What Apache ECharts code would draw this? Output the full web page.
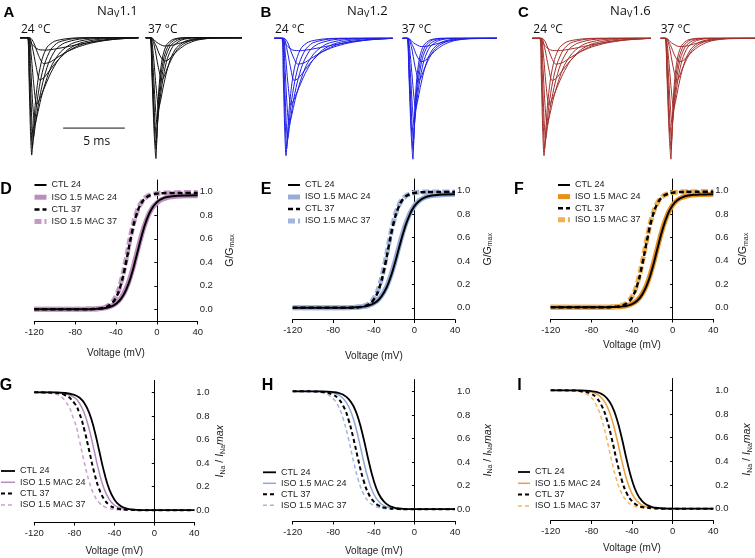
<!DOCTYPE html>
<html>
<head>
<meta charset="utf-8">
<script src="https://cdn.jsdelivr.net/npm/echarts@6/dist/echarts.min.js"></script>
<style>
html,body{margin:0;padding:0;background:#fff}
#main{width:755px;height:558px}
</style>
</head>
<body>
<div id="main"></div>
<script>
// ---- data ----
// current traces (ms, normalised current), same shape family in A, B, C
var trace24 = [
  [[0,0],[0.6,0],[0.72,-0.3],[0.85,-0.8],[0.95,-1.0],[1.08,-0.8],[1.25,-0.55],[1.5,-0.33],[1.8,-0.18],[2.2,-0.08],[2.8,-0.03],[3.8,-0.008],[5,0],[9.6,0]],
  [[0,0],[0.62,0],[0.76,-0.3],[0.9,-0.75],[1.0,-0.94],[1.15,-0.78],[1.35,-0.57],[1.65,-0.37],[2.0,-0.22],[2.5,-0.1],[3.1,-0.04],[4.2,-0.01],[5.5,0],[9.6,0]],
  [[0,0],[0.64,0],[0.8,-0.28],[0.95,-0.68],[1.08,-0.86],[1.25,-0.74],[1.5,-0.56],[1.85,-0.38],[2.3,-0.22],[2.9,-0.1],[3.6,-0.045],[4.8,-0.012],[6.5,0],[9.6,0]],
  [[0,0],[0.66,0],[0.85,-0.22],[1.02,-0.55],[1.2,-0.74],[1.4,-0.66],[1.7,-0.52],[2.1,-0.37],[2.6,-0.23],[3.3,-0.12],[4.2,-0.05],[5.5,-0.015],[7.5,0],[9.6,0]],
  [[0,0],[0.7,0],[0.9,-0.14],[1.1,-0.38],[1.35,-0.57],[1.6,-0.52],[2.0,-0.42],[2.5,-0.3],[3.1,-0.19],[3.9,-0.1],[4.9,-0.045],[6.3,-0.015],[8.3,0],[9.6,0]],
  [[0,0],[0.75,0],[1.0,-0.08],[1.3,-0.24],[1.6,-0.36],[1.95,-0.34],[2.4,-0.28],[3.0,-0.2],[3.8,-0.12],[4.8,-0.065],[6.0,-0.03],[7.6,-0.01],[9.6,0]],
  [[0,0],[0.8,0],[1.1,-0.04],[1.5,-0.15],[1.9,-0.22],[2.4,-0.21],[3.0,-0.17],[3.8,-0.12],[4.8,-0.075],[6.0,-0.04],[7.5,-0.015],[9.6,0]],
  [[0,0],[0.65,0],[1.0,-0.06],[1.5,-0.1],[2.1,-0.105],[2.9,-0.095],[3.9,-0.075],[5.1,-0.05],[6.5,-0.027],[8.0,-0.01],[9.6,0]]
];
var trace37 = [
  [[0,0],[0.35,0],[0.5,-0.3],[0.68,-0.8],[0.83,-1.03],[0.92,-0.75],[1.03,-0.5],[1.18,-0.3],[1.4,-0.15],[1.7,-0.06],[2.2,-0.015],[3,0],[7.8,0]],
  [[0,0],[0.36,0],[0.52,-0.3],[0.7,-0.75],[0.85,-0.95],[0.95,-0.72],[1.08,-0.5],[1.25,-0.31],[1.5,-0.16],[1.85,-0.065],[2.4,-0.015],[3.3,0],[7.8,0]],
  [[0,0],[0.37,0],[0.55,-0.28],[0.73,-0.68],[0.88,-0.86],[0.99,-0.68],[1.13,-0.5],[1.33,-0.32],[1.6,-0.17],[2.0,-0.07],[2.6,-0.02],[3.6,0],[7.8,0]],
  [[0,0],[0.38,0],[0.58,-0.22],[0.77,-0.56],[0.93,-0.74],[1.06,-0.62],[1.23,-0.47],[1.45,-0.32],[1.75,-0.18],[2.2,-0.075],[2.9,-0.02],[4,0],[7.8,0]],
  [[0,0],[0.4,0],[0.62,-0.15],[0.85,-0.43],[1.05,-0.6],[1.2,-0.54],[1.42,-0.42],[1.7,-0.29],[2.05,-0.17],[2.5,-0.085],[3.2,-0.03],[4.3,-0.005],[7.8,0]],
  [[0,0],[0.42,0],[0.7,-0.07],[1.0,-0.24],[1.32,-0.36],[1.5,-0.33],[1.75,-0.26],[2.1,-0.18],[2.55,-0.1],[3.1,-0.05],[3.9,-0.017],[5,0],[7.8,0]],
  [[0,0],[0.45,0],[0.8,-0.06],[1.15,-0.15],[1.5,-0.2],[1.8,-0.19],[2.2,-0.15],[2.7,-0.1],[3.3,-0.055],[4.1,-0.022],[5.2,-0.005],[7.8,0]],
  [[0,0],[0.45,0],[0.9,-0.04],[1.5,-0.07],[2.1,-0.065],[2.8,-0.045],[3.6,-0.025],[4.6,-0.01],[5.8,0],[7.8,0]]
];
var scaleBarMs = [3.5, 8.5];
var scaleBarLevel = -0.77;

// voltage grid for the fitted curves
var volts = [-120,-110,-100,-90,-80,-75,-70,-65,-60,-55,-50,-45,-40,-35,-30,-25,-20,-15,-10,-5,0,5,10,15,20,30,40];
var voltTicks = [-120,-80,-40,0,40];
var fracTicks = [0,0.2,0.4,0.6,0.8,1.0];

// activation G/Gmax  (D: NaV1.1, E: NaV1.2, F: NaV1.6)
var actD_ctl24 = [0,0,0,0,0,0,0.001,0.001,0.003,0.006,0.011,0.023,0.046,0.090,0.167,0.289,0.451,0.620,0.760,0.855,0.910,0.940,0.955,0.962,0.966,0.969,0.970];
var actD_iso24 = [0,0,0,0,0,0,0.001,0.002,0.003,0.007,0.013,0.026,0.050,0.097,0.178,0.302,0.465,0.630,0.765,0.855,0.905,0.935,0.950,0.958,0.962,0.965,0.965];
var actD_ctl37 = [0,0,0,0,0,0,0.001,0.001,0.003,0.007,0.018,0.043,0.100,0.217,0.406,0.627,0.803,0.905,0.954,0.975,0.984,0.987,0.989,0.990,0.990,0.990,0.990];
var actD_iso37 = [0,0,0,0,0,0,0.001,0.002,0.003,0.008,0.020,0.048,0.110,0.235,0.430,0.650,0.815,0.910,0.957,0.976,0.985,0.988,0.990,0.990,0.992,0.993,0.993];

var actE_ctl24 = [0,0,0,0,0,0,0.001,0.001,0.003,0.005,0.010,0.020,0.038,0.071,0.130,0.225,0.359,0.517,0.669,0.788,0.868,0.914,0.941,0.955,0.962,0.968,0.970];
var actE_iso24 = [0,0,0,0,0,0,0.001,0.002,0.003,0.006,0.011,0.021,0.040,0.075,0.136,0.234,0.370,0.530,0.680,0.795,0.872,0.916,0.942,0.955,0.962,0.967,0.969];
var actE_ctl37 = [0,0,0,0,0,0,0,0.001,0.002,0.005,0.012,0.030,0.072,0.161,0.323,0.540,0.741,0.872,0.939,0.969,0.981,0.986,0.988,0.990,0.990,0.990,0.990];
var actE_iso37 = [0,0,0,0,0,0,0,0.001,0.002,0.006,0.014,0.034,0.080,0.175,0.345,0.560,0.755,0.880,0.943,0.970,0.982,0.987,0.989,0.990,0.990,0.990,0.990];

var actF_ctl24 = [0,0,0,0,0,0,0,0.001,0.002,0.003,0.007,0.014,0.028,0.056,0.109,0.199,0.334,0.502,0.666,0.793,0.875,0.921,0.945,0.958,0.964,0.968,0.970];
var actF_iso24 = [0,0,0,0,0,0,0,0.001,0.002,0.004,0.008,0.015,0.030,0.059,0.114,0.206,0.343,0.510,0.672,0.796,0.876,0.921,0.945,0.957,0.963,0.967,0.969];
var actF_ctl37 = [0,0,0,0,0,0,0,0.001,0.003,0.006,0.015,0.036,0.085,0.187,0.364,0.584,0.773,0.889,0.947,0.972,0.983,0.987,0.989,0.990,0.990,0.990,0.990];
var actF_iso37 = [0,0,0,0,0,0,0,0.001,0.003,0.007,0.017,0.040,0.093,0.200,0.382,0.600,0.784,0.895,0.950,0.973,0.984,0.988,0.990,0.990,0.991,0.992,0.992];

// steady-state inactivation INa/INamax  (G, H, I)
var inaG_ctl24 = [1,1,0.999,0.995,0.979,0.956,0.909,0.823,0.683,0.500,0.317,0.177,0.091,0.044,0.021,0.010,0.005,0.002,0.001,0,0,0,0,0,0,0,0];
var inaG_iso24 = [1,1,0.998,0.990,0.956,0.909,0.823,0.683,0.500,0.317,0.177,0.091,0.044,0.021,0.010,0.005,0.002,0.001,0,0,0,0,0,0,0,0,0];
var inaG_ctl37 = [1,0.999,0.995,0.979,0.909,0.823,0.683,0.500,0.317,0.177,0.091,0.044,0.021,0.010,0.005,0.002,0.001,0,0,0,0,0,0,0,0,0,0];
var inaG_iso37 = [0.999,0.997,0.986,0.936,0.760,0.595,0.405,0.240,0.127,0.064,0.030,0.014,0.007,0.003,0.001,0,0,0,0,0,0,0,0,0,0,0,0];

var inaH_ctl24 = [1,1,1,0.999,0.993,0.986,0.970,0.936,0.873,0.760,0.595,0.405,0.240,0.127,0.064,0.030,0.014,0.007,0.003,0.001,0,0,0,0,0,0,0];
var inaH_iso24 = [1,1,0.999,0.997,0.986,0.970,0.936,0.873,0.760,0.595,0.405,0.240,0.127,0.064,0.030,0.014,0.007,0.003,0.001,0,0,0,0,0,0,0,0];
var inaH_ctl37 = [1,1,0.999,0.993,0.970,0.936,0.873,0.760,0.595,0.405,0.240,0.127,0.064,0.030,0.014,0.007,0.003,0.001,0,0,0,0,0,0,0,0,0];
var inaH_iso37 = [1,0.999,0.997,0.986,0.936,0.873,0.760,0.595,0.405,0.240,0.127,0.064,0.030,0.014,0.007,0.003,0.001,0,0,0,0,0,0,0,0,0,0];

var inaI_ctl24 = [1,1,1,0.999,0.993,0.986,0.970,0.936,0.873,0.760,0.595,0.405,0.240,0.127,0.064,0.030,0.014,0.007,0.003,0.001,0,0,0,0,0,0,0];
var inaI_iso24 = [1,1,0.999,0.997,0.986,0.970,0.936,0.873,0.760,0.595,0.405,0.240,0.127,0.064,0.030,0.014,0.007,0.003,0.001,0,0,0,0,0,0,0,0];
var inaI_ctl37 = [1,1,0.999,0.993,0.970,0.936,0.873,0.760,0.595,0.405,0.240,0.127,0.064,0.030,0.014,0.007,0.003,0.001,0,0,0,0,0,0,0,0,0];
var inaI_iso37 = [1,0.999,0.997,0.986,0.936,0.873,0.760,0.595,0.405,0.240,0.127,0.064,0.030,0.014,0.007,0.003,0.001,0,0,0,0,0,0,0,0,0,0];

var seriesNames = ['CTL 24','ISO 1.5 MAC 24','CTL 37','ISO 1.5 MAC 37'];

// ---- layout ----
var ARIAL = '"Liberation Sans", Arial, sans-serif';
var SEGOE = '"Open Sans", "Noto Sans", sans-serif';
var PX_PER_MS = 12.33;

var grids = [], xAxes = [], yAxes = [], series = [], legends = [], graphics = [];

function pairs(vals){
	return volts.map(function(v,i){ return [v, vals[i]]; });
}

// current trace panels
var tracePanels = [
	{left:20,    top:26,   xmax:9.6, set:trace24, color:'#111111', bar:true},
	{left:145.7, top:26,   xmax:7.8, set:trace37, color:'#111111'},
	{left:274.3, top:26.6, xmax:9.6, set:trace24, color:'#1f1fe6'},
	{left:402.7, top:26.6, xmax:7.5, set:trace37, color:'#1f1fe6'},
	{left:532.3, top:26.6, xmax:9.6, set:trace24, color:'#a3302c'},
	{left:660.7, top:26.6, xmax:7.5, set:trace37, color:'#a3302c'}
];
tracePanels.forEach(function(p){
	var gi = grids.length;
	grids.push({left:p.left, top:p.top, width:p.xmax*PX_PER_MS, height:140.8});
	xAxes.push({gridIndex:gi, type:'value', min:0, max:p.xmax, show:false});
	yAxes.push({gridIndex:gi, type:'value', min:-1.1, max:0.1, show:false});
	var xi = xAxes.length-1, yi = yAxes.length-1;
	p.set.forEach(function(tr){
		series.push({type:'line', xAxisIndex:xi, yAxisIndex:yi, data:tr, symbol:'none',
			smooth:0.25, silent:true, lineStyle:{color:p.color, width:1}});
	});
	if(p.bar){
		series.push({type:'line', xAxisIndex:xi, yAxisIndex:yi, symbol:'none', silent:true,
			data:[[scaleBarMs[0],scaleBarLevel],[scaleBarMs[1],scaleBarLevel]],
			lineStyle:{color:'#111', width:1}});
	}
});

// fitted-curve panels
var curvePanels = [
	{grid:{left:34.3, top:180, width:163.4, height:141}, xGap:27, yGap:26, kind:'g',
	 leg:{left:32, top:180.5, w:12, gap:3.2}, iso:['#bb8cbd','#c59bc6'], thick:true,
	 data:[actD_ctl24, actD_iso24, actD_ctl37, actD_iso37]},
	{grid:{left:292.7, top:179, width:162.3, height:140.5}, xGap:32, yGap:27, kind:'g',
	 leg:{left:285.5, top:180.5, w:12, gap:3.0}, iso:['#98acd8','#a2b5dd'], thick:true,
	 data:[actE_ctl24, actE_iso24, actE_ctl37, actE_iso37]},
	{grid:{left:550.7, top:179, width:162.6, height:140}, xGap:21, yGap:24, kind:'g',
	 leg:{left:555.5, top:180.5, w:12, gap:2.6}, iso:['#e8901c','#f2b055'], thick:true,
	 data:[actF_ctl24, actF_iso24, actF_ctl37, actF_iso37]},
	{grid:{left:34.3, top:380.5, width:160, height:141.5}, xGap:24, yGap:20, kind:'i',
	 leg:{left:0, top:466.5, w:14, gap:2.3}, iso:['#b58bbd','#c8a2cc'], thick:false,
	 data:[inaG_ctl24, inaG_iso24, inaG_ctl37, inaG_iso37]},
	{grid:{left:292.7, top:379.5, width:162.3, height:141.5}, xGap:25, yGap:27, kind:'i',
	 leg:{left:262, top:467.8, w:13, gap:2.0}, iso:['#8fa8d8','#a2b6e0'], thick:false,
	 data:[inaH_ctl24, inaH_iso24, inaH_ctl37, inaH_iso37]},
	{grid:{left:550.7, top:378.5, width:162.6, height:142}, xGap:23, yGap:28, kind:'i',
	 leg:{left:517, top:467.5, w:12, gap:2.3}, iso:['#eba040','#f2b768'], thick:false,
	 data:[inaI_ctl24, inaI_iso24, inaI_ctl37, inaI_iso37]}
];

var gName = '{n|G/G}{s|max}';
var iName = '{i|I}{s|Na}{n| / }{i|I}{s|Na}{i|max}';
var nameRich = {
	n:{fontSize:10.5, fontFamily:ARIAL, color:'#222'},
	i:{fontSize:10.5, fontFamily:ARIAL, color:'#222', fontStyle:'italic'},
	s:{fontSize:7, fontFamily:ARIAL, color:'#222', padding:[5,0,0,0]}
};

curvePanels.forEach(function(p, pi){
	var gi = grids.length;
	grids.push(p.grid);
	xAxes.push({gridIndex:gi, type:'value', min:voltTicks[0], max:voltTicks[voltTicks.length-1], interval:40,
		axisLine:{onZero:false, lineStyle:{color:'#000', width:1}},
		axisTick:{length:3.5, lineStyle:{color:'#000'}},
		axisLabel:{fontSize:9.5, color:'#222', fontFamily:ARIAL, margin:6},
		splitLine:{show:false},
		name:'Voltage (mV)', nameLocation:'middle', nameGap:p.xGap,
		nameTextStyle:{fontSize:10, color:'#222', fontFamily:ARIAL}});
	var xi = xAxes.length-1;
	// axis line through V = 0
	yAxes.push({gridIndex:gi, type:'value', min:-0.1, max:1.1,
		axisLine:{show:true, onZero:true, lineStyle:{color:'#000', width:1}},
		axisTick:{show:true, length:2.5, customValues:fracTicks, lineStyle:{color:'#000'}},
		axisLabel:{show:false}, splitLine:{show:false}});
	var yi = yAxes.length-1;
	// labels on the right side
	yAxes.push({gridIndex:gi, type:'value', min:-0.1, max:1.1, position:'right',
		axisLine:{show:false, onZero:false}, axisTick:{show:false}, splitLine:{show:false},
		axisLabel:{customValues:fracTicks, margin:2, fontSize:9.5, color:'#222', fontFamily:ARIAL,
			formatter:function(v){ return v.toFixed(1); }},
		name: p.kind==='g' ? gName : iName, nameLocation:'middle', nameGap:p.yGap, nameRotate:90,
		nameTextStyle:{rich:nameRich}});

	var tag = new Array(pi+1).join('\u200b');
	var names = seriesNames.map(function(n){ return n + tag; });
	var wThick = p.thick ? 5 : 1.5;
	var wBlack = p.thick ? 2 : 1.8;
	var styles = [
		{color:'#000', width:wBlack, type:'solid'},
		{color:p.iso[0], width:wThick, type:'solid'},
		{color:'#000', width: p.thick ? 2.5 : 2, type: p.thick ? [5,3] : [4,3]},
		{color:p.iso[1], width:wThick, type: p.thick ? [7,3] : [4,3]}
	];
	// coloured ISO curves first, black control curves drawn on top
	[1,3,0,2].forEach(function(k){
		series.push({name:names[k], type:'line', xAxisIndex:xi, yAxisIndex:yi, data:pairs(p.data[k]),
			symbol:'none', smooth:true, silent:true,
			itemStyle:{color:styles[k].color}, lineStyle:styles[k]});
	});

	legends.push({orient:'vertical', left:p.leg.left, top:p.leg.top, padding:0,
		itemWidth:p.leg.w, itemHeight:9, itemGap:p.leg.gap, selectedMode:false,
		itemStyle:{opacity:0},
		data:names.map(function(n,k){
			var ls = styles[k];
			return {name:n, lineStyle:{color:ls.color, width:ls.width, type:ls.type}};
		}),
		textStyle:{fontSize:9, color:'#222', fontFamily:ARIAL},
		formatter:function(n){ return n.replace(/\u200b/g,''); }});
});

// panel letters
var letters = [
	['A',9,12.5,15],['B',266,12.5,15],['C',523.5,12.5,15],
	['D',6,189.5,16],['E',266,189.5,16],['F',519,189.5,16],
	['G',6,386,16],['H',267.5,386,16],['I',519.5,386,16]
];
letters.forEach(function(l){
	graphics.push({type:'text', x:l[1], y:l[2], silent:true,
		style:{text:l[0], fill:'#000', font:'bold '+l[3]+'px '+ARIAL, align:'center', verticalAlign:'middle'}});
});

// channel titles
var titles = [['1.1',97],['1.2',347],['1.6',610]];
titles.forEach(function(t){
	graphics.push({type:'text', x:t[1], y:11, silent:true,
		style:{text:'{a|Na}{s|V}{a|'+t[0]+'}', verticalAlign:'middle', align:'left',
			rich:{a:{fontSize:13, fontFamily:SEGOE, fill:'#111'},
				  s:{fontSize:9, fontFamily:SEGOE, fill:'#111', padding:[7,0,0,0]}}}});
});

// temperature labels
var temps = [['24 °C',21],['37 °C',148],['24 °C',275],['37 °C',401.7],['24 °C',533.3],['37 °C',660.7]];
temps.forEach(function(t){
	graphics.push({type:'text', x:t[1], y:29.5, silent:true,
		style:{text:t[0], fill:'#111', font:'12px '+SEGOE, align:'left', verticalAlign:'middle'}});
});
graphics.push({type:'text', x:96.7, y:142, silent:true,
	style:{text:'5 ms', fill:'#111', font:'12px '+SEGOE, align:'center', verticalAlign:'middle'}});

var myChart = echarts.init(document.getElementById('main'));
var option = {
	animation:false,
	backgroundColor:'#fff',
	grid:grids,
	xAxis:xAxes,
	yAxis:yAxes,
	legend:legends,
	series:series,
	graphic:graphics
};
myChart.setOption(option);
</script>
</body>
</html>
